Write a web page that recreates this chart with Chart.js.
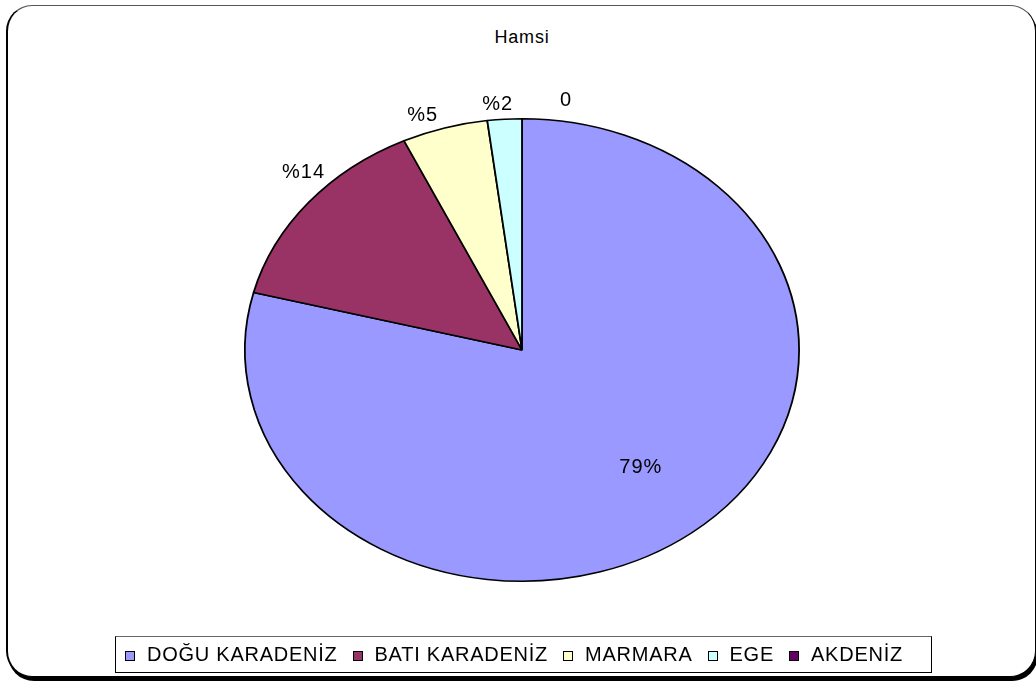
<!DOCTYPE html>
<html>
<head>
<meta charset="utf-8">
<script src="https://cdn.jsdelivr.net/npm/chart.js@4"></script>
<style>
  html, body { margin:0; padding:0; background:#fff; }
  #wrap { position:relative; width:1036px; height:683px; overflow:hidden; background:#fff; }
  #frame { position:absolute; left:6px; top:5px; width:1027px; height:670px; border:1px solid #000; border-top-color:#555; border-left-width:2px; border-radius:26px; box-shadow:2px 4px 0 #000; background:#fff; }
  canvas { position:absolute; left:0; top:0; }
  #title { position:absolute; left:422px; width:200px; top:27px; text-align:center; font-family:"Liberation Sans", Arial, sans-serif; font-size:18px; letter-spacing:0.8px; color:#000; }
  #legend { position:absolute; left:115px; top:636px; width:817px; height:37px; border:1px solid #000; border-top-color:#666; box-sizing:border-box; display:flex; align-items:center; justify-content:flex-start; padding-left:9px; gap:15px; font-family:"Liberation Sans", Arial, sans-serif; font-size:20px; color:#000; }
  .item { display:flex; align-items:center; white-space:nowrap; }
  .sw { width:8px; height:8px; border:1px solid #000; margin-right:12px; margin-top:2px; }
  .txt { letter-spacing:0.75px; }
</style>
</head>
<body>
<div id="wrap">
  <div id="frame"></div>
  <div id="title"></div>
  <canvas id="c" width="1036" height="683"></canvas>
  <div id="legend"></div>
</div>
<script>
const chartTitle = 'Hamsi';
const categories = ['DOĞU KARADENİZ', 'BATI KARADENİZ', 'MARMARA', 'EGE', 'AKDENİZ'];
const values = [79, 14, 5, 2, 0];
const sliceLabels = ['79%', '%14', '%5', '%2', '0'];
const colors = ['#9999FF', '#993366', '#FFFFCC', '#CCFFFF', '#660066'];

// layout / style (not data)
const ellipseStretch = 278 / 232;
const labelNudge = [[-51, -65], [-5, -30], [-22, -12], [-7, -15], [44, -18]];

document.getElementById('title').textContent = chartTitle;
const leg = document.getElementById('legend');
categories.forEach((c, i) => {
  const it = document.createElement('div'); it.className = 'item';
  const sw = document.createElement('div'); sw.className = 'sw'; sw.style.background = colors[i];
  const tx = document.createElement('span'); tx.className = 'txt'; tx.textContent = c;
  it.appendChild(sw); it.appendChild(tx); leg.appendChild(it);
});

const ellipsePlugin = {
  id: 'ellipse',
  beforeDatasetsDraw(chart) {
    const a = chart.chartArea, ctx = chart.ctx;
    const cx = (a.left + a.right) / 2, cy = (a.top + a.bottom) / 2;
    ctx.save();
    ctx.translate(cx, cy); ctx.scale(ellipseStretch, 1); ctx.translate(-cx, -cy);
  },
  afterDatasetsDraw(chart) { chart.ctx.restore(); }
};

const labelPlugin = {
  id: 'sliceLabels',
  afterDraw(chart) {
    const ctx = chart.ctx;
    const meta = chart.getDatasetMeta(0);
    ctx.save();
    ctx.font = '20px "Liberation Sans", Arial, sans-serif';
    ctx.fillStyle = '#000';
    ctx.textAlign = 'center';
    ctx.textBaseline = 'middle';
    try { ctx.letterSpacing = '1px'; } catch (e) {}
    meta.data.forEach((arc, i) => {
      const p = arc.getProps(['x', 'y', 'startAngle', 'endAngle', 'outerRadius'], true);
      const mid = (p.startAngle + p.endAngle) / 2;
      const ax = p.x + Math.cos(mid) * p.outerRadius * ellipseStretch;
      const ay = p.y + Math.sin(mid) * p.outerRadius;
      ctx.fillText(sliceLabels[i], ax + labelNudge[i][0], ay + labelNudge[i][1]);
    });
    ctx.restore();
  }
};

new Chart(document.getElementById('c'), {
  type: 'pie',
  data: {
    labels: categories,
    datasets: [{
      data: values,
      backgroundColor: colors,
      borderColor: '#000',
      borderWidth: 1.5
    }]
  },
  options: {
    responsive: false,
    animation: false,
    layout: { padding: { left: 290, right: 282, top: 117, bottom: 100 } },
    plugins: { legend: { display: false }, tooltip: { enabled: false }, title: { display: false } }
  },
  plugins: [ellipsePlugin, labelPlugin]
});
</script>
</body>
</html>
